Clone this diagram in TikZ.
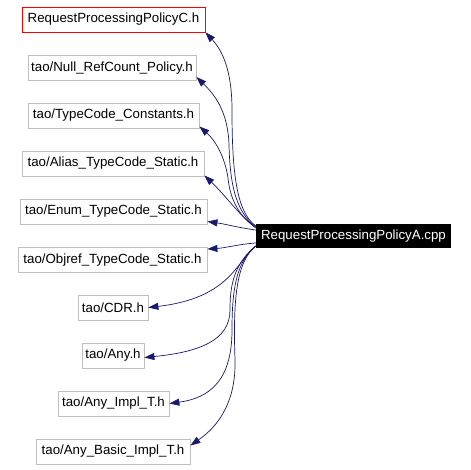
\documentclass[tikz,border=0pt]{standalone}
\usepackage{fontspec}
\setmainfont{Liberation Sans}
\usetikzlibrary{arrows.meta}
\definecolor{edgeblue}{RGB}{25,25,112}
\definecolor{boxgray}{RGB}{191,191,191}
\begin{document}
\begin{tikzpicture}[x=1pt,y=-1pt,
  every node/.style={font=\fontsize{13.3}{15}\selectfont, inner sep=0pt, minimum height=25pt},
  filebox/.style={draw=boxgray, line width=0.8pt},
  redbox/.style={draw=red, line width=0.8pt},
  mainbox/.style={fill=black, text=white},
  dep/.style={draw=edgeblue, line width=0.7pt, -{Triangle[length=10pt,width=7pt]}}]
\useasboundingbox (0,0) rectangle (470,470);
\node[redbox, minimum width=183pt] (C) at (113.5,19.5) {RequestProcessingPolicyC.h};
\node[filebox, minimum width=168pt] (Null) at (112,68) {tao/Null\_RefCount\_Policy.h};
\node[filebox, minimum width=171pt] (Const) at (113.5,115.5) {tao/TypeCode\_Constants.h};
\node[filebox, minimum width=182pt] (Alias) at (113,163.5) {tao/Alias\_TypeCode\_Static.h};
\node[filebox, minimum width=187pt] (Enum) at (113.5,211.5) {tao/Enum\_TypeCode\_Static.h};
\node[filebox, minimum width=189pt] (Objref) at (112.5,260) {tao/Objref\_TypeCode\_Static.h};
\node[filebox, minimum width=70pt] (CDR) at (113,307.5) {tao/CDR.h};
\node[filebox, minimum width=62pt] (Any) at (113,355.5) {tao/Any.h};
\node[filebox, minimum width=111pt] (AnyImpl) at (113.5,403.5) {tao/Any\_Impl\_T.h};
\node[filebox, minimum width=154pt] (Basic) at (113,451.5) {tao/Any\_Basic\_Impl\_T.h};
\node[mainbox, minimum width=195pt, minimum height=24pt] (main) at (353.5,236) {RequestProcessingPolicyA.cpp};

\draw[dep] ([yshift=10pt]main.west) .. controls (236,212) and (232,170) .. (232,110) .. controls (232,70) and (222,50) .. (C.south east);
\draw[dep] ([yshift=9pt]main.west) .. controls (236,212) and (230,185) .. (229,145) .. controls (228,112) and (215,95) .. ([yshift=-9pt]Null.east);
\draw[dep] ([yshift=9pt]main.west) .. controls (238,216) and (230,198) .. (228,178) .. controls (225,157) and (215,140) .. ([yshift=-11pt]Const.east);
\draw[dep] ([yshift=8pt]main.west) .. controls (240,216) and (225,195) .. ([yshift=-12pt]Alias.east);
\draw[dep] ([yshift=6pt]main.west) .. controls (240,228) and (225,224) .. ([yshift=-10pt]Enum.east);
\draw[dep] ([yshift=-7pt]main.west) .. controls (240,244) and (225,248) .. ([yshift=11pt]Objref.east);
\draw[dep] ([yshift=-10pt]main.west) .. controls (236,262) and (230,298) .. (CDR.east);
\draw[dep] ([yshift=-10pt]main.west) .. controls (232,265) and (230,290) .. (230,310) .. controls (230,340) and (200,352) .. ([yshift=-2pt]Any.east);
\draw[dep] ([yshift=-10pt]main.west) .. controls (236,262) and (232,290) .. (232,330) .. controls (232,380) and (210,398) .. (AnyImpl.east);
\draw[dep] ([yshift=-10pt]main.west) .. controls (236,262) and (233,300) .. (235,360) .. controls (236,400) and (220,425) .. ([yshift=6pt]Basic.east);
\end{tikzpicture}
\end{document}
